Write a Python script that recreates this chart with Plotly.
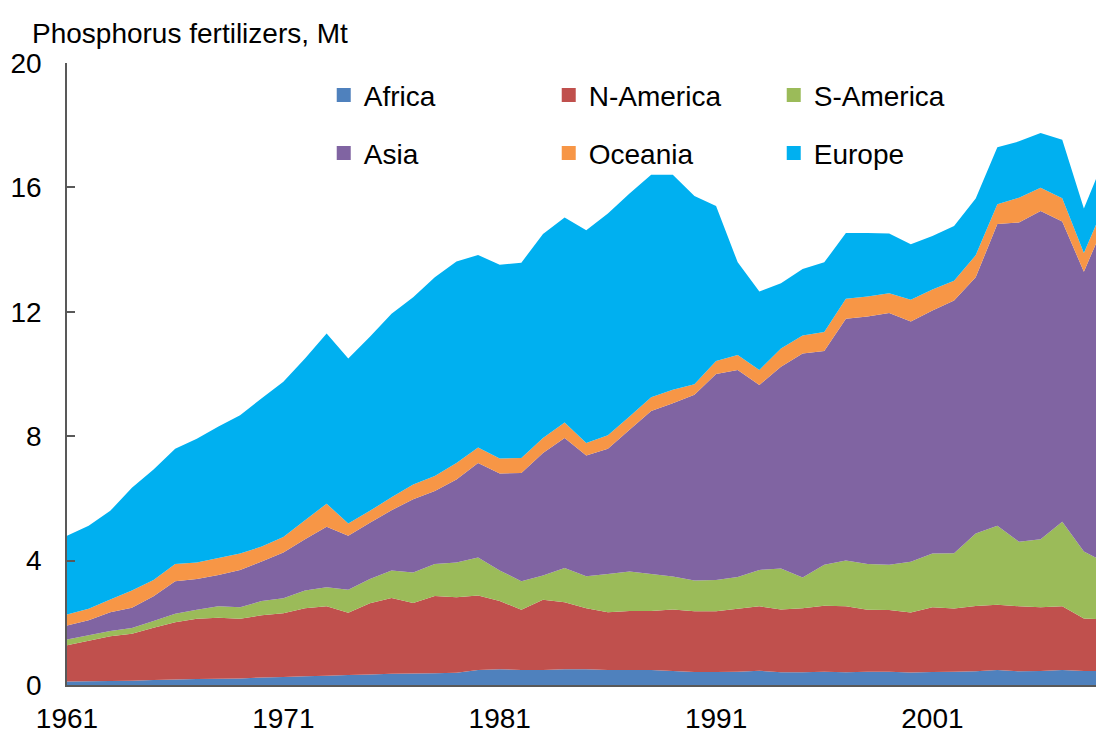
import plotly.graph_objects as go

years = list(range(1961, 2010))

africa = [0.11, 0.12, 0.13, 0.14, 0.16, 0.18, 0.19, 0.20, 0.21, 0.24,
          0.26, 0.28, 0.30, 0.32, 0.34, 0.36, 0.37, 0.38, 0.39, 0.48,
          0.51, 0.48, 0.48, 0.51, 0.51, 0.48, 0.48, 0.48, 0.45, 0.42,
          0.42, 0.43, 0.46, 0.41, 0.41, 0.43, 0.41, 0.43, 0.43, 0.40,
          0.42, 0.43, 0.44, 0.48, 0.44, 0.45, 0.48, 0.45, 0.45]
n_america = [1.17, 1.30, 1.44, 1.51, 1.68, 1.84, 1.94, 1.96, 1.92, 2.00,
             2.05, 2.19, 2.23, 2.00, 2.29, 2.44, 2.27, 2.48, 2.43, 2.40,
             2.19, 1.94, 2.26, 2.15, 1.96, 1.86, 1.90, 1.90, 1.98, 1.95,
             1.95, 2.02, 2.07, 2.02, 2.06, 2.12, 2.12, 1.99, 1.98, 1.93,
             2.08, 2.03, 2.10, 2.10, 2.09, 2.05, 2.05, 1.69, 1.66]
s_america = [0.18, 0.18, 0.17, 0.18, 0.22, 0.27, 0.29, 0.37, 0.37, 0.46,
             0.48, 0.57, 0.61, 0.74, 0.78, 0.88, 0.98, 1.03, 1.12, 1.22,
             0.98, 0.92, 0.78, 1.10, 1.03, 1.23, 1.27, 1.19, 1.06, 0.99,
             1.01, 1.02, 1.17, 1.32, 0.99, 1.32, 1.47, 1.47, 1.46, 1.63,
             1.73, 1.78, 2.33, 2.54, 2.08, 2.19, 2.72, 2.15, 1.82]
asia = [0.45, 0.48, 0.60, 0.65, 0.79, 1.05, 0.99, 1.01, 1.20, 1.27,
        1.47, 1.65, 1.95, 1.74, 1.81, 1.94, 2.35, 2.35, 2.67, 3.04,
        3.12, 3.48, 3.94, 4.18, 3.88, 4.03, 4.56, 5.24, 5.57, 5.97,
        6.62, 6.66, 5.95, 6.48, 7.20, 6.87, 7.78, 7.96, 8.09, 7.73,
        7.81, 8.12, 8.24, 9.70, 10.26, 10.55, 9.65, 9.00, 10.98]
oceania = [0.36, 0.37, 0.41, 0.56, 0.53, 0.55, 0.53, 0.54, 0.53, 0.48,
           0.50, 0.61, 0.74, 0.39, 0.38, 0.42, 0.48, 0.48, 0.53, 0.50,
           0.48, 0.48, 0.48, 0.50, 0.40, 0.43, 0.42, 0.44, 0.43, 0.34,
           0.42, 0.48, 0.48, 0.59, 0.58, 0.61, 0.64, 0.64, 0.64, 0.70,
           0.68, 0.64, 0.71, 0.64, 0.80, 0.75, 0.75, 0.60, 0.60]
europe = [2.53, 2.67, 2.85, 3.30, 3.55, 3.71, 3.98, 4.23, 4.44, 4.77,
          4.99, 5.20, 5.47, 5.31, 5.60, 5.90, 6.02, 6.39, 6.48, 6.19,
          6.23, 6.28, 6.56, 6.59, 6.84, 7.13, 7.17, 7.16, 6.92, 6.05,
          4.98, 2.98, 2.52, 2.10, 2.14, 2.24, 2.11, 2.04, 1.92, 1.78,
          1.72, 1.76, 1.82, 1.83, 1.81, 1.76, 1.88, 1.43, 1.50]

names = ["Africa", "N-America", "S-America", "Asia", "Oceania", "Europe"]
series = [africa, n_america, s_america, asia, oceania, europe]
colors = ["#4F81BD", "#C0504D", "#9BBB59", "#8064A2", "#F79646", "#00B0F0"]

x_ticks = [1961, 1971, 1981, 1991, 2001]
y_ticks = [0, 4, 8, 12, 16, 20]

FONT = "Liberation Sans, Arial, sans-serif"
FS = 28

fig = go.Figure()
for name, vals, col in zip(names, series, colors):
    fig.add_trace(go.Scatter(
        x=years, y=vals, name=name, mode="none", stackgroup="one",
        fillcolor=col, showlegend=False, hoverinfo="x+y+name"))

for i, (name, col) in enumerate(zip(names, colors)):
    fig.add_trace(go.Scatter(
        x=[None], y=[None], name=name, mode="markers",
        marker=dict(symbol="square", size=14, color=col),
        showlegend=True, legend="legend" if i < 3 else "legend2"))

leg_common = dict(orientation="h", xanchor="left", yanchor="middle",
                  entrywidth=180, entrywidthmode="pixels", traceorder="normal",
                  font=dict(family=FONT, size=FS, color="#000000"),
                  bgcolor="rgba(0,0,0,0)", borderwidth=0, tracegroupgap=0)

fig.update_layout(
    width=1096, height=734,
    margin=dict(l=67, r=0, t=63, b=46),
    paper_bgcolor="white", plot_bgcolor="white",
    font=dict(family=FONT, size=FS, color="#000000"),
    legend=dict(x=0.2495, y=0.948, **leg_common),
    legend2=dict(x=0.2495, y=0.855, **leg_common),
    xaxis=dict(range=[1961, 2008.56], tickvals=x_ticks,
               ticktext=[str(v) for v in x_ticks],
               showgrid=False, zeroline=False, showline=True,
               linecolor="#595959", linewidth=1.5, ticks="",
               ticklabelstandoff=8,
               tickfont=dict(family=FONT, size=FS, color="#000000")),
    yaxis=dict(range=[0, 20], tickvals=y_ticks,
               showgrid=False, zeroline=False, showline=True,
               linecolor="#595959", linewidth=1.5, ticks="inside",
               ticklen=8, tickcolor="#595959", tickwidth=1.5,
               ticklabelstandoff=18,
               tickfont=dict(family=FONT, size=FS, color="#000000")),
    annotations=[dict(text="Phosphorus fertilizers, Mt", xref="paper", yref="paper",
                      x=-0.036, y=1.0475, xanchor="left", yanchor="middle",
                      showarrow=False,
                      font=dict(family=FONT, size=FS, color="#000000"))],
)

fig.write_html("out.html",
               config={"displayModeBar": False},
               post_script="document.body.style.margin='0';document.body.style.overflow='hidden';")
